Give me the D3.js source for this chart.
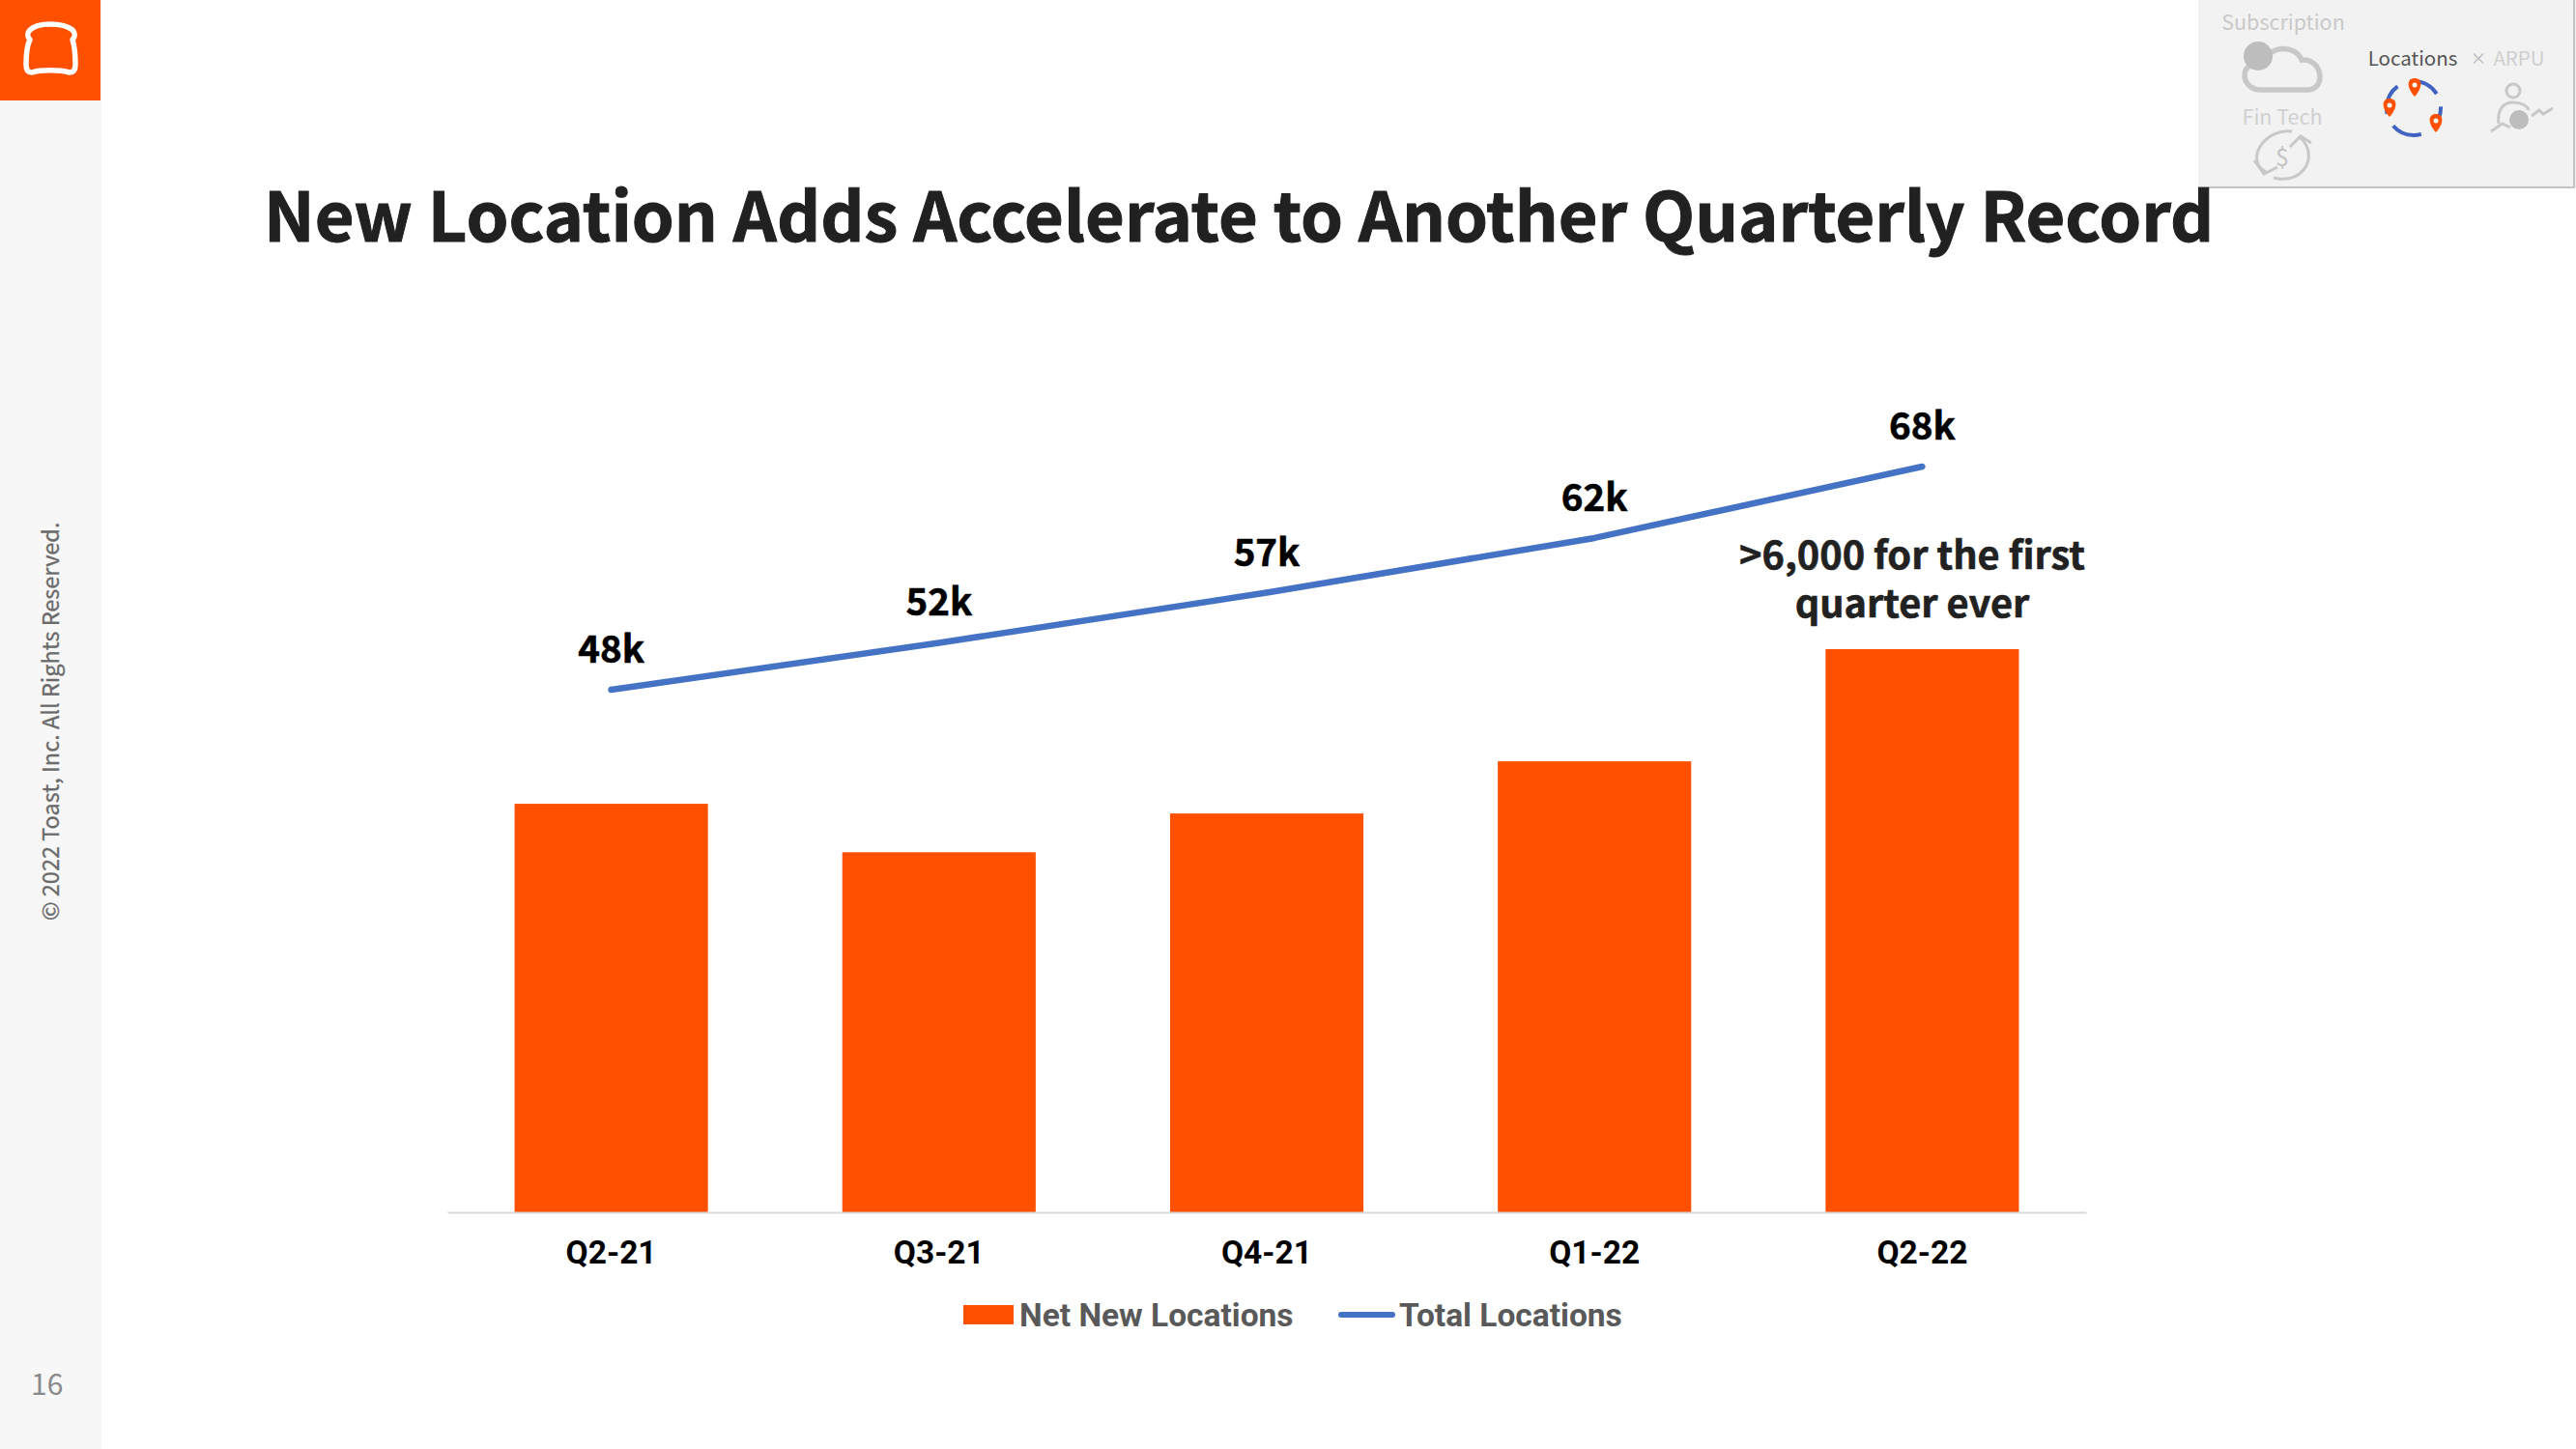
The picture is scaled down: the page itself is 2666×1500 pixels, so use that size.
<!DOCTYPE html>
<html><head><meta charset="utf-8">
<script src="https://cdn.jsdelivr.net/npm/d3@7"></script>
<style>html,body{margin:0;padding:0;background:#fff}svg{display:block}</style>
</head><body><svg id="c" width="2666" height="1500"></svg>
<script>
const categories = ["Q2-21","Q3-21","Q4-21","Q1-22","Q2-22"];
const netNewLocations = [4425,3900,4320,4885,6100];
const totalLocations = [48,52.2,56.7,61.6,68];
const totalLabels = ["48k","52k","57k","62k","68k"];
const legendLabels = ["Net New Locations","Total Locations"];
const titleText = "New Location Adds Accelerate to Another Quarterly Record";
const noteLines = [">6,000 for the first","quarter ever"];

const ORANGE="#ff5000", BLUE="#4472c4", CJK="'Noto Sans CJK SC','Noto Sans',sans-serif";
const svg=d3.select("#c");
svg.append("rect").attr("width",2666).attr("height",1500).attr("fill","#fff");

// sidebar
svg.append("rect").attr("width",105).attr("height",1500).attr("fill","#f7f7f7");
svg.append("rect").attr("width",104).attr("height",104).attr("fill",ORANGE);
svg.append("path").attr("fill","none").attr("stroke","#fff").attr("stroke-width",5.5).attr("stroke-linejoin","round")
 .attr("d","M52 25C42 25 35 27 31 31C28 34 28 38 31 41C28 47 27 58 27 67C27 72 29 75 33 75C42 72 62 72 72 75C76 75 78 72 78 67C78 58 77 47 75 41C78 38 78 34 75 31C70 27 62 25 52 25Z");
svg.append("text").attr("transform","translate(61,953) rotate(-90)").attr("font-family",CJK).attr("font-size",23.5).attr("fill","#6a6a6a").attr("stroke","#6a6a6a").attr("stroke-width",0.3).text("© 2022 Toast, Inc. All Rights Reserved.");
svg.append("text").attr("x",32).attr("y",1444).attr("font-family",CJK).attr("font-size",30).attr("fill","#8a8a8a").text("16");

// thumbnail
const th=svg.append("g");
th.append("rect").attr("x",2275).attr("y",-3).attr("width",394).attr("height",196).attr("fill","#f2f2f2");
th.append("path").attr("d","M2275 194H2664V0").attr("fill","none").attr("stroke","#c4c4c4").attr("stroke-width",2);
const thText=(x,y,t,fill,size)=>th.append("text").attr("x",x).attr("y",y).attr("text-anchor","middle").attr("font-family",CJK).attr("font-size",size).attr("fill",fill).text(t);
thText(2363,31,"Subscription","#c9c9c9",21.5);
thText(2362,129,"Fin Tech","#d0d0d0",21.5);
thText(2497,68,"Locations","#555",20.5);
thText(2607,68,"ARPU","#cfcfcf",20.5);
thText(2565,67,"×","#b8b8b8",17);
th.append("path").attr("d","M2340 93C2318 93 2316 62 2342 66C2348 46 2376 46 2382 62C2404 60 2408 93 2388 93Z").attr("fill","none").attr("stroke","#c8c8c8").attr("stroke-width",5.5);
th.append("circle").attr("cx",2337).attr("cy",58).attr("r",15).attr("fill","#bdbdbd");
// recycled $ icon
th.append("path").attr("d","M2372 136C2345 132 2322 165 2345 178M2333 166L2343 180L2357 173M2353 184C2385 192 2400 160 2381 143M2370 152L2381 141L2392 148").attr("fill","none").attr("stroke","#c8c8c8").attr("stroke-width",3);
thText(2362,172,"$","#c4c4c4",25);
// locations ring
th.append("circle").attr("cx",2498).attr("cy",112).attr("r",28).attr("fill","none").attr("stroke","#4062c0").attr("stroke-width",4).attr("stroke-dasharray","32 14").attr("stroke-dashoffset",10);
[[2499,89],[2473,110],[2521,126]].forEach(([x,y])=>{
 th.append("path").attr("d",`M${x} ${y+11}C${x-9} ${y+1} ${x-8} ${y-8} ${x} ${y-8}C${x+8} ${y-8} ${x+9} ${y+1} ${x} ${y+11}Z`).attr("fill",ORANGE);
 th.append("circle").attr("cx",x).attr("cy",y-1).attr("r",2.5).attr("fill","#fff");
});
// ARPU icon
th.append("circle").attr("cx",2601).attr("cy",94).attr("r",7).attr("fill","none").attr("stroke","#c8c8c8").attr("stroke-width",3);
th.append("path").attr("d","M2586 128C2584 112 2592 106 2601 106C2610 106 2616 110 2617 114M2578 136L2590 128L2598 132M2620 120L2628 114L2632 118L2642 112").attr("fill","none").attr("stroke","#c8c8c8").attr("stroke-width",3);
th.append("circle").attr("cx",2607).attr("cy",124).attr("r",10).attr("fill","#bdbdbd");

// title
svg.append("text").attr("x",273).attr("y",250).attr("font-family",CJK).attr("font-weight",700).attr("font-size",70.3).attr("fill","#212121").attr("stroke","#212121").attr("stroke-width",1).text(titleText);

// chart
const x0=463,x1=2159,base=1255;
const x=d3.scaleBand().domain(categories).range([x0,x1]).paddingInner(0.41).paddingOuter(0.205);
const yBar=d3.scaleLinear().domain([0,6100]).range([base,672]);
const yLine=d3.scaleLinear().domain([48,68]).range([714,483]);
const cx=d=>x(d)+x.bandwidth()/2;

svg.append("g").selectAll("rect").data(categories).join("rect")
 .attr("x",d=>x(d)).attr("width",x.bandwidth())
 .attr("y",(d,i)=>yBar(netNewLocations[i])).attr("height",(d,i)=>base-yBar(netNewLocations[i]))
 .attr("fill",ORANGE);

const ax=svg.append("g").attr("transform",`translate(0,${base})`).call(d3.axisBottom(x).tickSize(0).tickPadding(29));
ax.select(".domain").attr("stroke","#d9d9d9").attr("stroke-width",2);
ax.selectAll("text").attr("font-family","Roboto").attr("font-weight",700).attr("font-size",33.5).attr("fill","#000");

svg.append("path").attr("fill","none").attr("stroke",BLUE).attr("stroke-width",6.5).attr("stroke-linecap","round").attr("stroke-linejoin","round")
 .attr("d",d3.line().x((d,i)=>cx(categories[i])).y(d=>yLine(d))(totalLocations));

svg.append("g").selectAll("text").data(totalLabels).join("text")
 .attr("x",(d,i)=>cx(categories[i])).attr("y",(d,i)=>yLine(totalLocations[i])-28)
 .attr("text-anchor","middle").attr("font-family",CJK).attr("font-weight",700).attr("font-size",38.5).attr("fill","#000").attr("stroke","#000").attr("stroke-width",0.6).text(d=>d);

svg.append("g").selectAll("text").data(noteLines).join("text")
 .attr("x",1979).attr("y",(d,i)=>589+i*50)
 .attr("text-anchor","middle").attr("font-family",CJK).attr("font-weight",700).attr("font-size",39.7).attr("fill","#212121").attr("stroke","#212121").attr("stroke-width",0.6).text(d=>d);

// legend
svg.append("rect").attr("x",997).attr("y",1351).attr("width",52).attr("height",20).attr("fill",ORANGE);
svg.append("line").attr("x1",1388).attr("x2",1441).attr("y1",1361).attr("y2",1361).attr("stroke",BLUE).attr("stroke-width",6).attr("stroke-linecap","round");
[[1055,legendLabels[0]],[1448,legendLabels[1]]].forEach(([lx,t])=>svg.append("text").attr("x",lx).attr("y",1373).attr("font-family","Roboto").attr("font-weight",700).attr("font-size",33.5).attr("fill","#595959").text(t));
</script></body></html>
